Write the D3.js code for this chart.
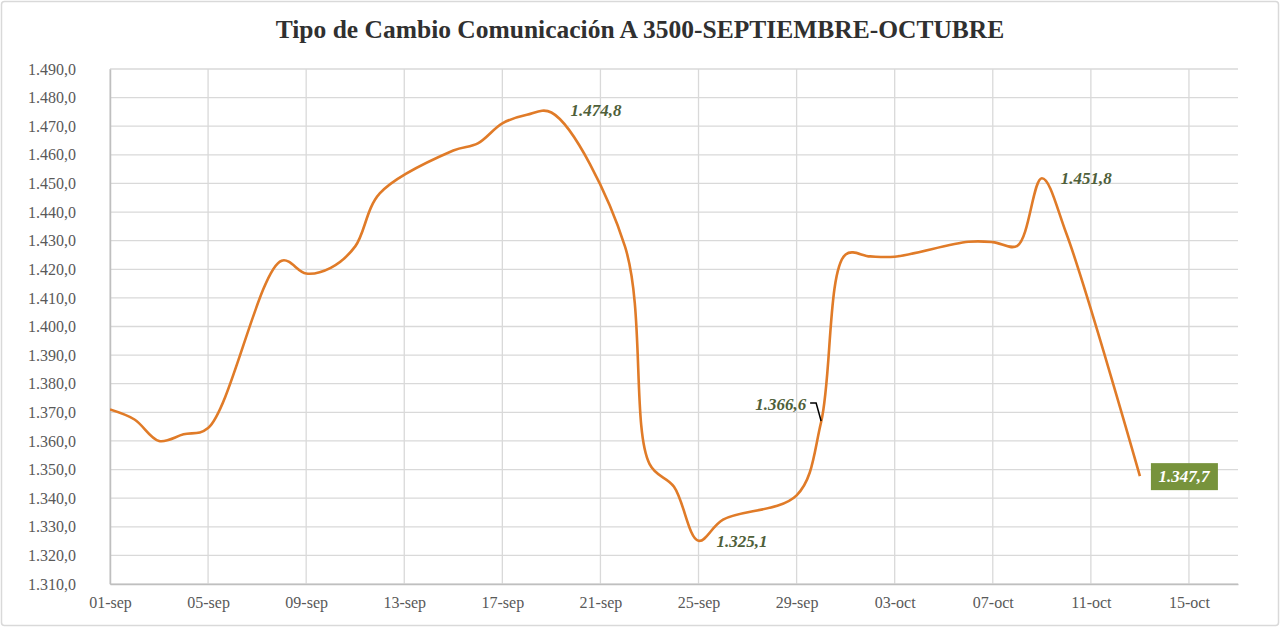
<!DOCTYPE html>
<html>
<head>
<meta charset="utf-8">
<script src="https://cdn.jsdelivr.net/npm/d3@7"></script>
<style>
  body { margin: 0; background: #fff; }
  svg { display: block; font-family: "Liberation Serif", "DejaVu Serif", serif; }
  .tick text { font-family: "Liberation Serif", serif; }
</style>
</head>
<body>
<div id="chart-div"></div>
<script>
// business days shown in the chart
const fechas = [
  "2025-09-01", "2025-09-02", "2025-09-03", "2025-09-04", "2025-09-05",
  "2025-09-08", "2025-09-09", "2025-09-10", "2025-09-11", "2025-09-12",
  "2025-09-15", "2025-09-16", "2025-09-17", "2025-09-18", "2025-09-19",
  "2025-09-22", "2025-09-23", "2025-09-24", "2025-09-25", "2025-09-26",
  "2025-09-29", "2025-09-30", "2025-10-01", "2025-10-02", "2025-10-03",
  "2025-10-06", "2025-10-07", "2025-10-08", "2025-10-09", "2025-10-10",
  "2025-10-13"
];
const tipoCambio = [
  1371.0, 1367.5, 1360.0, 1362.3, 1364.5,
  1423.0, 1418.5, 1420.5, 1428.0, 1446.5,
  1461.5, 1464.0, 1471.0, 1474.0, 1474.8,
  1428.0, 1352.0, 1344.0, 1325.1, 1332.5,
  1341.0, 1366.6, 1425.2, 1424.5, 1424.4,
  1429.6, 1429.5, 1428.2, 1451.8, 1432.5,
  1347.7
];
// labelled points (index into the series)
const etiquetas = [14, 18, 21, 28, 30];
const yTicks = d3.range(1310, 1491, 10);
const xStart = "2025-09-01", xEnd = "2025-10-17";

const titulo = "Tipo de Cambio Comunicación A 3500-SEPTIEMBRE-OCTUBRE";

const W = 1280, H = 628;
const margin = { top: 69, right: 42, bottom: 44, left: 110 };
const innerW = W - margin.left - margin.right;
const innerH = H - margin.top - margin.bottom;

const parse = d3.timeParse("%Y-%m-%d");
const data = fechas.map((f, i) => ({ date: parse(f), value: tipoCambio[i] }));

const esLocale = d3.timeFormatLocale({
  dateTime: "%x, %X", date: "%d/%m/%Y", time: "%H:%M:%S", periods: ["AM", "PM"],
  days: ["domingo", "lunes", "martes", "miércoles", "jueves", "viernes", "sábado"],
  shortDays: ["dom", "lun", "mar", "mié", "jue", "vie", "sáb"],
  months: ["enero", "febrero", "marzo", "abril", "mayo", "junio", "julio", "agosto",
    "septiembre", "octubre", "noviembre", "diciembre"],
  shortMonths: ["ene", "feb", "mar", "abr", "may", "jun", "jul", "ago", "sep", "oct", "nov", "dic"]
});
const numLocale = d3.formatLocale({ decimal: ",", thousands: ".", grouping: [3], currency: ["$", ""] });
const fmt = numLocale.format(",.1f");
const fmtDate = esLocale.format("%d-%b");

const x = d3.scaleTime().domain([parse(xStart), parse(xEnd)]).range([0, innerW]);
const y = d3.scaleLinear().domain([1310, 1490]).range([innerH, 0]);

const svg = d3.select("#chart-div").append("svg")
  .attr("width", W)
  .attr("height", H);

// chart frame
svg.append("rect")
  .attr("x", 1.5).attr("y", 1.5)
  .attr("width", W - 3).attr("height", H - 4)
  .attr("rx", 3)
  .attr("fill", "#fff")
  .attr("stroke", "#d9d9d9")
  .attr("stroke-width", 1.5);

svg.append("text")
  .attr("x", 640)
  .attr("y", 38)
  .attr("text-anchor", "middle")
  .attr("font-size", 25.5)
  .attr("font-weight", "bold")
  .attr("fill", "#303030")
  .text(titulo);

const g = svg.append("g")
  .attr("transform", `translate(${margin.left},${margin.top})`);

const xTicks = d3.timeDay.range(parse(xStart), parse(xEnd), 4);

// grid
g.append("g")
  .selectAll("line")
  .data(yTicks)
  .join("line")
  .attr("x1", 0).attr("x2", innerW)
  .attr("y1", d => y(d)).attr("y2", d => y(d))
  .attr("stroke", "#d9d9d9")
  .attr("stroke-width", 1.3);

g.append("g")
  .selectAll("line")
  .data(xTicks)
  .join("line")
  .attr("x1", d => x(d)).attr("x2", d => x(d))
  .attr("y1", 0).attr("y2", innerH)
  .attr("stroke", "#d9d9d9")
  .attr("stroke-width", 1.3);

// axes
const yAxis = g.append("g")
  .call(d3.axisLeft(y).tickValues(yTicks).tickFormat(fmt).tickSize(0).tickPadding(34));
yAxis.attr("font-family", null);
yAxis.select(".domain").attr("stroke", "#bfbfbf").attr("stroke-width", 1.5);
yAxis.selectAll("text").attr("font-size", 16).attr("fill", "#595959");

const xAxis = g.append("g")
  .attr("transform", `translate(0,${innerH})`)
  .call(d3.axisBottom(x).tickValues(xTicks).tickFormat(fmtDate).tickSize(0).tickPadding(13));
xAxis.attr("font-family", null);
xAxis.select(".domain").attr("stroke", "#bfbfbf").attr("stroke-width", 1.5);
xAxis.selectAll("text").attr("font-size", 16).attr("fill", "#595959");

// series line
svg.append("defs").append("clipPath").attr("id", "plot-clip")
  .append("rect").attr("width", innerW).attr("height", innerH);

const line = d3.line()
  .x(d => x(d.date))
  .y(d => y(d.value))
  .curve(d3.curveCatmullRom.alpha(0.5));

g.append("path")
  .datum(data)
  .attr("clip-path", "url(#plot-clip)")
  .attr("d", line)
  .attr("fill", "none")
  .attr("stroke", "#e07b28")
  .attr("stroke-width", 2.6)
  .attr("stroke-linejoin", "round");

// data labels
const labelOffsets = {
  14: { dx: 19, dy: 4, anchor: "start" },
  18: { dx: 18, dy: 6, anchor: "start" },
  21: { dx: -15, dy: -12, anchor: "end" },
  28: { dx: 19, dy: 6, anchor: "start" },
  30: { dx: 44, dy: 6, anchor: "middle" }
};

const labels = g.append("g");
etiquetas.forEach(i => {
  const d = data[i];
  const o = labelOffsets[i];
  const px = x(d.date), py = y(d.value);
  if (i === 30) {
    labels.append("rect")
      .attr("x", px + 11).attr("y", py - 13)
      .attr("width", 67).attr("height", 27)
      .attr("fill", "#77933c");
    labels.append("text")
      .attr("x", px + o.dx).attr("y", py + o.dy)
      .attr("text-anchor", o.anchor)
      .attr("font-size", 17).attr("font-style", "italic").attr("font-weight", "bold")
      .attr("fill", "#fff")
      .text(fmt(d.value));
    return;
  }
  if (i === 21) {
    labels.append("path")
      .attr("d", `M${px - 11},${py - 19}H${px - 5}L${px},${py - 1}`)
      .attr("fill", "none")
      .attr("stroke", "#000")
      .attr("stroke-width", 1.5);
  }
  labels.append("text")
    .attr("x", px + o.dx).attr("y", py + o.dy)
    .attr("text-anchor", o.anchor)
    .attr("font-size", 17).attr("font-style", "italic").attr("font-weight", "bold")
    .attr("fill", "#4f5f3a")
    .text(fmt(d.value));
});
</script>
</body>
</html>
